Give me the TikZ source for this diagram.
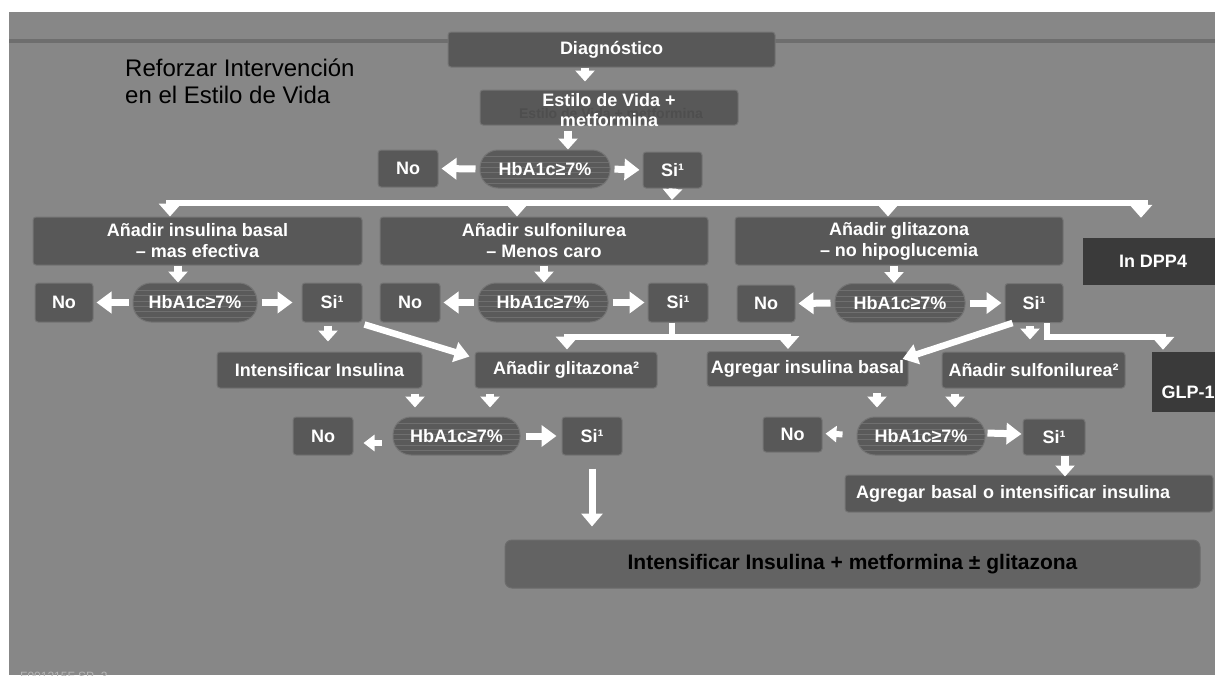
\documentclass[tikz,border=0pt]{standalone}
\usepackage{fontspec}
\setmainfont{Liberation Sans}
\usetikzlibrary{arrows.meta,calc}
\definecolor{bgc}{HTML}{878787}
\definecolor{topln}{HTML}{6E6E6E}
\definecolor{boxfill}{HTML}{585858}
\definecolor{boxedge}{HTML}{747474}
\definecolor{pillfill}{HTML}{5A5A5A}
\definecolor{darkc}{HTML}{3A3A3A}
\definecolor{finalc}{HTML}{636363}
\definecolor{finaledge}{HTML}{6C6C6C}
\definecolor{ghostc}{HTML}{4E4E4E}
\definecolor{footc}{HTML}{B5B5B5}
\newcommand\bxfont{\fontsize{18}{21}\selectfont\bfseries}
\newcommand\fnfont{\fontsize{21}{24}\selectfont\bfseries}
\begin{document}
\begin{tikzpicture}[x=1pt,y=-1pt,
  gbox/.style={draw=boxedge,line width=1pt,fill=boxfill,rounded corners=3pt,text=white,font=\bxfont,inner sep=0pt,align=center},
  pill/.style={gbox,rounded corners=18pt,fill=pillfill,
    path picture={\foreach \k in {0.18,0.32,0.46,0.6,0.74,0.88}{\draw[white,opacity=0.13,line width=0.8pt] ($(path picture bounding box.north west)!\k!(path picture bounding box.south west)$) -- ++(140pt,0pt);}}},
  dbox/.style={fill=darkc,text=white,font=\bxfont,inner sep=0pt},
  fbox/.style={fill=finalc,draw=finaledge,line width=1pt,rounded corners=7pt,font=\fnfont,text=black,inner sep=0pt},
  txt/.style={font=\bxfont,text=white,inner sep=0pt,align=center},
  darr/.style={draw=white,line width=7.5pt,-{Triangle[width=19pt,length=11pt]}},
  harr/.style={draw=white,line width=7pt,-{Triangle[width=21pt,length=15pt]},shorten <=4pt,shorten >=3pt},
  sarr/.style={draw=white,line width=6pt,-{Triangle[width=16pt,length=11pt]}},
  barr/.style={draw=white,line width=7pt,-{Triangle[width=22pt,length=13pt]}},
  busline/.style={draw=white,line width=5.5pt},
  diarr/.style={draw=white,line width=6.5pt,-{Triangle[width=20pt,length=15pt]}}
]
\useasboundingbox (0,0) rectangle (1215,675);
\fill[white] (0,0) rectangle (1215,675);
\fill[bgc] (9,12) rectangle (1215,675);
\fill[topln] (9,38.5) rectangle (1215,43);

% top
\node[gbox,minimum width=327pt,minimum height=35pt] (diag) at (611.5,49.5) {Diagnóstico};
\node[gbox,minimum width=258pt,minimum height=35pt] (estilo) at (609,107.5) {};
\node[font=\fontsize{14}{14}\selectfont\bfseries,text=ghostc,inner sep=0pt] (ghost) at (611,113) {Estilo de Vida + metformina};
\node[txt,font=\fontsize{18}{20}\selectfont\bfseries] (estilot) at (609,110) {Estilo de Vida +\\metformina};
\node[pill,minimum width=130pt,minimum height=38pt] (hb0) at (545,169) {HbA1c≥7\%};
\node[gbox,minimum width=60pt,minimum height=37pt] (no0) at (408,168.5) {No};
\node[gbox,minimum width=59pt,minimum height=36pt] (si0) at (672.5,170) {Si¹};

\node[anchor=north west,font=\fontsize{24}{27}\selectfont,align=left,inner sep=0pt] (ref) at (125,59) {Reforzar Intervención\\en el Estilo de Vida};

% row 1
\node[gbox,minimum width=329pt,minimum height=48pt] (b1) at (197.5,241) {Añadir insulina basal\\– mas efectiva};
\node[gbox,minimum width=328pt,minimum height=48pt] (b2) at (544,241) {Añadir sulfonilurea\\– Menos caro};
\node[gbox,minimum width=328pt,minimum height=48pt] (b3) at (899,241) {Añadir glitazona\\– no hipoglucemia};
\node[dbox,minimum width=140pt,minimum height=47pt] (dpp4) at (1153,261.5) {In DPP4};

% row 2
\node[gbox,minimum width=58pt,minimum height=39pt] (no1) at (64,302.5) {No};
\node[pill,minimum width=124pt,minimum height=39pt] (hb1) at (195,302.5) {HbA1c≥7\%};
\node[gbox,minimum width=60pt,minimum height=39pt] (si1) at (332,302.5) {Si¹};
\node[gbox,minimum width=60pt,minimum height=39pt] (no2) at (410,302.5) {No};
\node[pill,minimum width=130pt,minimum height=39pt] (hb2) at (543,302.5) {HbA1c≥7\%};
\node[gbox,minimum width=60pt,minimum height=39pt] (si2) at (678,302.5) {Si¹};
\node[gbox,minimum width=58pt,minimum height=37pt] (no3) at (766,303.5) {No};
\node[pill,minimum width=130pt,minimum height=39pt] (hb3) at (900,303) {HbA1c≥7\%};
\node[gbox,minimum width=58pt,minimum height=39pt] (si3) at (1034,303) {Si¹};

% row 2.5
\node[gbox,minimum width=205pt,minimum height=36pt] (intens) at (319.5,370) {Intensificar Insulina};
\node[gbox,minimum width=182pt,minimum height=36pt] (glit2) at (566,370) {Añadir glitazona²};
\node[gbox,minimum width=201pt,minimum height=35pt] (agbas) at (807.5,369) {Agregar insulina basal};
\node[gbox,minimum width=183pt,minimum height=36pt] (sulf2) at (1033.5,370) {Añadir sulfonilurea²};
\node[dbox,minimum width=72pt,minimum height=60pt] (glp1) at (1188,382) {};
\node[txt] (glp1t) at (1188,392) {GLP-1};

% row 3
\node[gbox,minimum width=60pt,minimum height=38pt] (no4) at (323,436) {No};
\node[pill,minimum width=127pt,minimum height=38pt] (hb4) at (456.5,436) {HbA1c≥7\%};
\node[gbox,minimum width=60pt,minimum height=38pt] (si4) at (592,436) {Si¹};
\node[gbox,minimum width=59pt,minimum height=35pt] (no5) at (792.5,434.5) {No};
\node[pill,minimum width=128pt,minimum height=38pt] (hb5) at (921,436) {HbA1c≥7\%};
\node[gbox,minimum width=62pt,minimum height=36pt] (si5) at (1054,437) {Si¹};
\node[gbox,minimum width=368pt,minimum height=37pt,text width=346pt,align=left] (agint) at (1029,493.5) {Agregar basal o intensificar insulina};

\node[fbox,minimum width=695pt,minimum height=48pt] (final) at (852.5,564) {Intensificar Insulina + metformina ± glitazona};

\node[anchor=base west,font=\fontsize{12}{12}\selectfont,text=footc,inner sep=0pt] (foot) at (20,680) {F001215F SP\_3};

% connectors top
\draw[darr] ([xshift=-26.5pt]diag.south) -- ([xshift=-24pt,yshift=8pt]estilo.north);
\draw[darr,shorten <=5pt] ([xshift=-41pt]estilo.south) -- ([xshift=23pt]hb0.north);
\draw[harr] (hb0.west) -- (no0.east);
\draw[harr] (hb0.east) -- (si0.west);

\coordinate (busL) at (166,203);
\coordinate (busR) at (1148,203);
\coordinate (busA) at (170,203);
\coordinate (busB) at (517,203);
\coordinate (busC) at (888,203);
\coordinate (busD) at (1141,203);
\coordinate (bus) at (672,203);
\draw[busline] (busL) -- (busR);
\draw[darr,-{Triangle[width=19pt,length=11pt]}] (si0.south) -- ([yshift=3pt]bus);
\draw[barr] (busA) -- (busA |- b1.north);
\draw[barr] (busB) -- (busB |- b2.north);
\draw[barr] (busC) -- (busC |- b3.north);
\draw[barr,shorten >=20pt] (busD) -- (busD |- dpp4.north);

% row1 -> row2
\draw[darr] ([xshift=-19.5pt]b1.south) -- ([xshift=-17pt]hb1.north);
\draw[darr] (b2.south) -- (b2.south |- hb2.north);
\draw[darr] ([xshift=-5pt]b3.south) -- ([xshift=-6pt]hb3.north);

% row 2 horizontals
\draw[harr] (hb1.west) -- (no1.east);
\draw[harr,shorten >=9pt] (hb1.east) -- (si1.west);
\draw[harr] (hb2.west) -- (no2.east);
\draw[harr] (hb2.east) -- (si2.west);
\draw[harr] (hb3.west) -- (no3.east);
\draw[harr] (hb3.east) -- (si3.west);

% from si1
\draw[darr,shorten <=3pt,shorten >=10pt] ([xshift=-4pt]si1.south) -- ([xshift=8.5pt]intens.north);
\draw[diarr] ([xshift=2pt,yshift=-2pt]si1.south east) -- ([xshift=-5pt,yshift=-5pt]glit2.north west);

% from si2
\coordinate (br2) at (672,337);
\coordinate (br2L) at (567,337);
\coordinate (br2R) at (788,337);
\coordinate (br2La) at (564,337);
\coordinate (br2Ra) at (791,337);
\draw[busline] ([xshift=-6pt]si2.south) -- (br2);
\draw[busline] (br2La) -- (br2Ra);
\draw[barr] (br2L) -- ([yshift=2pt]br2L |- glit2.north);
\draw[barr] (br2R) -- ([yshift=2pt]br2R |- agbas.north);

% from si3
\draw[diarr] ([xshift=8pt]si3.south west) -- ([xshift=-6pt,yshift=-8pt]agbas.north east);
\draw[darr,shorten <=3pt,shorten >=12pt] ([xshift=-4pt]si3.south) -- ([xshift=-3.5pt]sulf2.north);
\coordinate (br3) at (1163,337);
\coordinate (br3a) at (1166,337);
\draw[busline] ([xshift=13pt]si3.south) |- (br3a);
\draw[barr] (br3) -- ([yshift=2pt]br3 |- glp1.north);

% row 2.5 -> row 3
\draw[darr,shorten <=5pt,shorten >=9pt] ([xshift=95.5pt]intens.south) -- ([xshift=-41.5pt]hb4.north);
\draw[darr,shorten <=5pt,shorten >=9pt] ([xshift=-76pt]glit2.south) -- ([xshift=33.5pt]hb4.north);
\draw[darr,shorten <=6pt,shorten >=9pt] ([xshift=69.5pt]agbas.south) -- ([xshift=-44pt]hb5.north);
\draw[darr,shorten <=5pt,shorten >=9pt] ([xshift=-78.5pt]sulf2.south) -- ([xshift=34pt]hb5.north);

% row 3 horizontals
\draw[sarr,shorten <=11pt,shorten >=10pt] ([yshift=-7pt]hb4.west) -- ([yshift=-7pt]no4.east);
\draw[harr,shorten <=5pt,shorten >=5pt] (hb4.east) -- (si4.west);
\draw[sarr,shorten <=14pt,shorten >=3pt] ([yshift=1pt]hb5.west) -- ([yshift=1pt]no5.east);
\draw[harr,shorten <=2pt,shorten >=1pt] ([yshift=3pt]hb5.east) -- ([yshift=3pt]si5.west);

% to bottom
\draw[darr,line width=7pt,-{Triangle[width=21pt,length=13pt]},shorten <=13pt,shorten >=13pt] (si4.south) -- (si4.south |- final.north);
\draw[darr] ([xshift=11pt]si5.south) -- ([xshift=36pt,yshift=-2pt]agint.north);
\end{tikzpicture}
\end{document}
